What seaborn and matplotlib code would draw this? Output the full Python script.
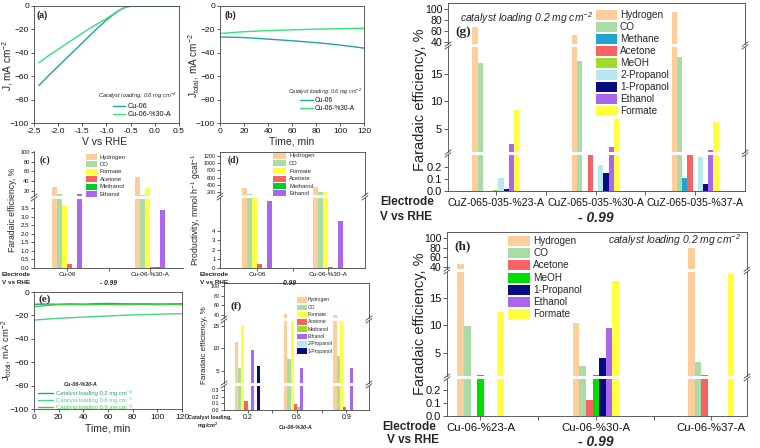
import numpy as np
import pandas as pd
import matplotlib
matplotlib.use("Agg")
import matplotlib.pyplot as plt
import seaborn as sns
from matplotlib.patches import Rectangle
from matplotlib.lines import Line2D

# ---------------- data ----------------
# (a) LSV
V_a = [-2.4, -2.2, -2.0, -1.8, -1.6, -1.4, -1.2, -1.0, -0.9, -0.8, -0.7, -0.6, -0.5, -0.4, -0.2, 0.0, 0.2, 0.5]
J_a_cu06 = [-68, -59.5, -51.5, -43.5, -35.5, -27.5, -19.5, -12, -8.7, -5.5, -2.8, -0.9, -0.1, 0, 0, 0, 0, 0]
J_a_cu06_30 = [-48.5, -42.5, -37, -31.5, -26, -20.5, -15.5, -10.8, -8, -5.2, -2.7, -1.0, -0.2, 0, 0, 0, 0, 0]
# (b) chronoamperometry
t_b = [0, 10, 20, 30, 40, 50, 60, 70, 80, 90, 100, 110, 120]
J_b_cu06 = [-26.5, -26.7, -27, -27.6, -28.3, -29, -29.7, -30.5, -31.3, -32.3, -33.4, -34.6, -36]
J_b_cu06_30 = [-23.5, -22.7, -22, -21.5, -21, -20.7, -20.4, -20.1, -19.8, -19.6, -19.4, -19.2, -19]
# (e) chronoamperometry, loadings
t_e = [0, 10, 20, 30, 40, 50, 60, 70, 80, 90, 100, 110, 120]
J_e_02 = [-10.5, -10.3, -10.5, -10.2, -10.4, -10.0, -9.8, -10.0, -10.2, -10.1, -10.3, -10.2, -10.0]
J_e_06 = [-24, -23.2, -22.5, -22, -21.5, -21, -20.5, -20, -19.6, -19.3, -19, -18.7, -18.5]
J_e_09 = [-12.5, -11.5, -10.8, -10.6, -10.8, -10.6, -10.5, -10.7, -10.6, -10.5, -10.8, -10.6, -10.5]

# (c) Faradaic efficiency
cd_electrodes = ["Cu-06", "Cu-06-%30-A"]
cd_products = ["Hydrogen", "CO", "Formate", "Acetone", "Methanol", "Ethanol"]
c_hydrogen = [28, 48]
c_co = [13, 12]
c_formate = [3.7, 26]
c_acetone = [0.25, 0.08]
c_methanol = [0.0, 0.04]
c_ethanol = [13, 3.4]
# (d) Productivity
d_hydrogen = [310, 350]
d_co = [150, 200]
d_formate = [120, 200]
d_acetone = [0.4, 0.1]
d_methanol = [0.0, 0.05]
d_ethanol = [7.3, 5.1]

# (f) FE vs loading
f_loadings = ["0.2", "0.6", "0.9"]
f_products = ["Hydrogen", "CO", "Formate", "Acetone", "Methanol", "Ethanol", "2-Propanol", "1-Propanol"]
f_hydrogen = [11.5, 42, 41]
f_co = [5.6, 7.6, 8.3]
f_formate = [15.3, 17, 17]
f_acetone = [0.14, 0.09, 0.05]
f_methanol = [0.0, 0.045, 0.0]
f_ethanol = [9.6, 5.6, 5.6]
f_2propanol = [0.0, 0.0, 0.0]
f_1propanol = [6.1, 0.0, 0.0]

# (g)
g_electrodes = ["CuZ-065-035-%23-A", "CuZ-065-035-%30-A", "CuZ-065-035-%37-A"]
g_products = ["Hydrogen", "CO", "Methane", "Acetone", "MeOH", "2-Propanol", "1-Propanol", "Ethanol", "Formate"]
g_hydrogen = [67, 53, 95]
g_co = [17.0, 17.4, 18.1]
g_methane = [0.0, 0.0, 0.11]
g_acetone = [0.0, 0.5, 0.9]
g_meoh = [0.01, 0.0, 0.0]
g_2propanol = [0.11, 0.22, 0.28]
g_1propanol = [0.015, 0.15, 0.06]
g_ethanol = [2.3, 1.7, 1.2]
g_formate = [8.5, 6.8, 6.3]

# (h)
h_electrodes = ["Cu-06-%23-A", "Cu-06-%30-A", "Cu-06-%37-A"]
h_products = ["Hydrogen", "CO", "Acetone", "MeOH", "1-Propanol", "Ethanol", "Formate"]
h_hydrogen = [47, 10.5, 79]
h_co = [9.8, 2.7, 3.3]
h_acetone = [0.0, 0.12, 0.9]
h_meoh = [0.9, 0.9, 0.0]
h_1propanol = [0.0, 4.0, 0.0]
h_ethanol = [0.0, 9.5, 0.0]
h_formate = [12.5, 18.0, 19.3]

# colours
COL = {
    "Hydrogen": "#FFCC9C", "CO": "#A9DCA6", "Formate": "#FFFF40", "Acetone": "#F86262",
    "Methanol": "#00CC22", "Ethanol": "#AA66EE", "Methane": "#1EA6D0", "MeOH": "#9BDD2A",
    "2-Propanol": "#B6E9EE", "1-Propanol": "#0A0A80",
}
pal_c = {k: COL[k] for k in cd_products}
pal_f = dict(COL); pal_f["Methanol"] = "#9BDD2A"
pal_h = dict(COL); pal_h["MeOH"] = "#00DD00"

# ---------------- figure ----------------
sns.set_theme(style="ticks")
plt.rcParams["font.family"] = ["Liberation Sans", "DejaVu Sans"]
plt.rcParams["mathtext.default"] = "regular"
plt.rcParams["axes.edgecolor"] = "#444444"
plt.rcParams["axes.linewidth"] = 0.6
plt.rcParams["xtick.color"] = "#444444"
plt.rcParams["ytick.color"] = "#444444"
plt.rcParams["xtick.labelcolor"] = "#111111"
plt.rcParams["ytick.labelcolor"] = "#111111"

W, H = 760, 448
fig = plt.figure(figsize=(7.6, 4.48), dpi=100)
fig.patch.set_facecolor("white")


def fx(x):
    return x / W


def fy(y):
    return 1 - y / H


def ax_px(x0, y0, x1, y1):
    return fig.add_axes([x0 / W, 1 - y1 / H, (x1 - x0) / W, (y1 - y0) / H])


def txt(x, y, s, ha="center", va="center", **kw):
    fig.text(fx(x), fy(y), s, ha=ha, va=va, **kw)


def brk(x, y):
    for dy in (-1.4, 1.4):
        fig.add_artist(Line2D([fx(x - 3), fx(x + 3)], [fy(y + dy + 2.2), fy(y + dy - 2.2)],
                              color="#444444", lw=0.6))


def lpatch(x, y, w, h, color, label, fs, tx):
    fig.add_artist(Rectangle((fx(x), fy(y + h / 2)), w / W, h / H, transform=fig.transFigure,
                             facecolor=color, edgecolor="none"))
    txt(tx, y, label, ha="left", fontsize=fs)


def lline(x0, x1, y, color, label, fs, tx, tcolor="#111111", lw=1.0):
    fig.add_artist(Line2D([fx(x0), fx(x1)], [fy(y), fy(y)], color=color, lw=lw))
    txt(tx, y, label, ha="left", fontsize=fs, color=tcolor)


def long_df(cats, prods, cols):
    rows = []
    for p, vals in zip(prods, cols):
        for c, v in zip(cats, vals):
            rows.append({"electrode": c, "product": p, "value": v})
    return pd.DataFrame(rows)


def broken_panel(df, order, hue_order, palette, width, xlim, x0, x1, segs, frame=True,
                 xtick_fs=6, tick_len=2.5, xpad=1.5):
    axes = []
    n = len(segs)
    for i, (ytop, ybot, ylim, yticks, ylabels, yfs) in enumerate(segs):
        ax = ax_px(x0, ytop, x1, ybot)
        sns.barplot(data=df, x="electrode", y="value", hue="product", order=order,
                    hue_order=hue_order, palette=palette, width=width, saturation=1,
                    errorbar=None, legend=False, ax=ax, linewidth=0, edgecolor="none")
        ax.set_xlim(*xlim)
        ax.set_ylim(*ylim)
        ax.set_yticks(yticks)
        ax.set_yticklabels(ylabels)
        ax.set_xlabel("")
        ax.set_ylabel("")
        ax.set_facecolor("none")
        is_top, is_bot = i == 0, i == n - 1
        ax.spines["top"].set_visible(frame and is_top)
        ax.spines["right"].set_visible(frame)
        ax.spines["bottom"].set_visible(is_bot)
        ax.tick_params(axis="y", labelsize=yfs, length=tick_len, width=0.6, pad=1.2)
        if is_bot:
            ax.set_xticks(range(len(order)))
            ax.set_xticklabels(order)
            ax.set_xticks([k + 0.5 for k in range(len(order) - 1)], minor=True)
            ax.tick_params(axis="x", which="both", labelsize=xtick_fs, length=tick_len,
                           width=0.6, pad=xpad)
        else:
            ax.tick_params(axis="x", which="both", bottom=False, labelbottom=False)
        axes.append(ax)
        if not is_bot:
            brk(x0, ybot + 1.5)
            if frame:
                brk(x1, ybot + 1.5)
    return axes


def style_line_ax(ax):
    ax.tick_params(labelsize=6, length=2, width=0.6, pad=1.5)
    for s in ax.spines.values():
        s.set_visible(True)
    ax.set_xlabel("")
    ax.set_ylabel("")


# ---------------- (a) ----------------
ax = ax_px(34, 6, 179, 123)
sns.lineplot(x=V_a, y=J_a_cu06, ax=ax, color="#1FA4A0", lw=1.0)
sns.lineplot(x=V_a, y=J_a_cu06_30, ax=ax, color="#35E27A", lw=1.0)
ax.set_xlim(-2.5, 0.5)
ax.set_ylim(-100, 0)
ax.set_xticks(np.arange(-2.5, 0.51, 0.5))
ax.set_xticklabels(["-2.5", "-2.0", "-1.5", "-1.0", "-0.5", "0.0", "0.5"])
ax.set_yticks(range(-100, 1, 20))
style_line_ax(ax)
txt(42, 16, "(a)", fontsize=6.5, fontweight="bold")
txt(104, 142, "V vs RHE", fontsize=7.5)
txt(8, 65, "J, mA cm$^{-2}$", fontsize=7.2, rotation=90)
txt(177, 96, "Catalyst loading: 0.6 mg cm$^{-2}$", ha="right", fontsize=4.2, style="italic")
lline(113, 125, 106, "#1FA4A0", "Cu-06", 5.2, 128)
lline(113, 125, 114, "#35E27A", "Cu-06-%30-A", 5.2, 128)

# ---------------- (b) ----------------
ax = ax_px(220, 6, 364, 123)
sns.lineplot(x=t_b, y=J_b_cu06, ax=ax, color="#1FA4A0", lw=1.0)
sns.lineplot(x=t_b, y=J_b_cu06_30, ax=ax, color="#35E27A", lw=1.0)
ax.set_xlim(0, 120)
ax.set_ylim(-100, 0)
ax.set_xticks(range(0, 121, 20))
ax.set_yticks(range(-100, 1, 20))
style_line_ax(ax)
txt(230, 16, "(b)", fontsize=6.5, fontweight="bold")
txt(292, 142, "Time, min", fontsize=7.5)
txt(194, 65, "J$_{total}$, mA cm$^{-2}$", fontsize=7.2, rotation=90)
txt(362, 91.5, "Catalyst loading: 0.6 mg cm$^{-2}$", ha="right", fontsize=4.0, style="italic")
lline(300, 313, 100, "#1FA4A0", "Cu-06", 4.8, 315)
lline(300, 313, 108, "#35E27A", "Cu-06-%30-A", 4.8, 315)

# ---------------- (c) ----------------
df_c = long_df(cd_electrodes, cd_products,
               [c_hydrogen, c_co, c_formate, c_acetone, c_methanol, c_ethanol])
segs_c = [
    (151, 196, (9.7, 102), [20, 40, 60, 80, 100], ["20", "40", "60", "80", "100"], 4.0),
    (199, 268, (0, 4.03), np.arange(0, 3.6, 0.5),
     ["0.0", "0.5", "1.0", "1.5", "2.0", "2.5", "3.0", "3.5"], 4.4),
]
broken_panel(df_c, cd_electrodes, cd_products, pal_c, 0.36, (-0.4, 1.4), 34, 183, segs_c,
             frame=False, xtick_fs=4.6, tick_len=2, xpad=1.2)
txt(45, 160, "(c)", fontsize=7, fontweight="bold", family="Liberation Serif")
txt(13, 210, "Faradaic efficiency, %", fontsize=6.2, rotation=90)
for k, p in enumerate(cd_products):
    lpatch(86, 157 + k * 7.4, 11, 6, pal_c[p], p, 4.3, 100)
txt(2, 275, "Electrode", ha="left", fontsize=4.6, fontweight="bold")
txt(2, 282, "V vs RHE", ha="left", fontsize=4.6, fontweight="bold")
txt(108, 283, "- 0.99", fontsize=4.8, fontweight="bold", style="italic")

# ---------------- (d) ----------------
df_d = long_df(cd_electrodes, cd_products,
               [d_hydrogen, d_co, d_formate, d_acetone, d_methanol, d_ethanol])
segs_d = [
    (152, 195, (117, 1311), [200, 400, 600, 800, 1000, 1200],
     ["200", "400", "600", "800", "1000", "1200"], 3.8),
    (198, 268, (0, 7.6), [0, 1, 2, 3, 4], ["0", "1", "2", "3", "4"], 4.4),
]
broken_panel(df_d, cd_electrodes, cd_products, pal_c, 0.42, (-0.52, 1.52), 220, 365, segs_d,
             frame=True, xtick_fs=4.6, tick_len=2, xpad=1.2)
txt(233, 160, "(d)", fontsize=7, fontweight="bold", family="Liberation Serif")
txt(196, 210, "Productivity, mmol h$^{-1}$ gcat$^{-1}$", fontsize=6.2, rotation=90)
for k, p in enumerate(cd_products):
    lpatch(273, 156 + k * 7.5, 13, 6, pal_c[p], p, 4.2, 289)
txt(200, 275, "Electrode", ha="left", fontsize=4.6, fontweight="bold")
txt(200, 282, "V vs RHE", ha="left", fontsize=4.6, fontweight="bold")
txt(287, 283, "- 0.99", fontsize=4.8, fontweight="bold", style="italic")

# ---------------- (e) ----------------
ax = ax_px(34, 292, 182, 409)
e_cols = ["#2F9A7C", "#46D58A", "#33D43A"]
sns.lineplot(x=t_e, y=J_e_02, ax=ax, color=e_cols[0], lw=1.0)
sns.lineplot(x=t_e, y=J_e_06, ax=ax, color=e_cols[1], lw=1.0)
sns.lineplot(x=t_e, y=J_e_09, ax=ax, color=e_cols[2], lw=1.0)
ax.set_xlim(0, 120)
ax.set_ylim(-100, 0)
ax.set_xticks(range(0, 121, 20))
ax.set_yticks(range(-100, 1, 20))
style_line_ax(ax)
txt(45, 299, "(e)", fontsize=8, fontweight="bold", family="Liberation Serif")
txt(108, 428, "Time, min", fontsize=7.5)
txt(7, 350, "J$_{total}$, mA cm$^{-2}$", fontsize=6.8, rotation=90)
txt(81, 384.5, "Cu-06-%30-A", fontsize=4.0, fontweight="bold", style="italic")
lline(38, 53, 393, e_cols[0], "Catalyst loading 0.2 mg cm\u207b\u00b2", 4.2, 56, tcolor=e_cols[0])
lline(38, 53, 400, e_cols[1], "Catalyst loading 0.6 mg cm\u207b\u00b2", 4.2, 56, tcolor=e_cols[1])
lline(38, 53, 407, e_cols[2], "Catalyst loading 0.9 mg cm\u207b\u00b2", 4.2, 56, tcolor=e_cols[2])

# ---------------- (f) ----------------
df_f = long_df(f_loadings, f_products,
               [f_hydrogen, f_co, f_formate, f_acetone, f_methanol, f_ethanol, f_2propanol, f_1propanol])
segs_f = [
    (283, 318, (34, 106), [40, 60, 80, 100], ["40", "60", "80", "100"], 3.8),
    (321, 383, (2.2, 16.1), [5, 10, 15], ["5", "10", "15"], 4.6),
    (386, 410, (0, 0.36), [0, 0.1, 0.2, 0.3], ["0.0", "0.1", "0.2", "0.3"], 3.8),
]
broken_panel(df_f, f_loadings, f_products, pal_f, 0.52, (-0.48, 2.46), 224, 369, segs_f,
             frame=True, xtick_fs=5, tick_len=2, xpad=1.2)
txt(236, 306, "(f)", fontsize=8, fontweight="bold", family="Liberation Serif")
txt(204, 345, "Faradaic efficiency, %", fontsize=5.8, rotation=90)
for k, p in enumerate(f_products):
    lpatch(297, 300 + k * 7.3, 10, 5.5, pal_f[p], p, 3.6, 308)
txt(210, 417, "Catalyst loading,", fontsize=4, fontweight="bold")
txt(208, 426, "mg/cm$^{2}$", fontsize=4, fontweight="bold")
txt(296, 427, "Cu-06-%30-A", fontsize=4, fontweight="bold", style="italic")

# ---------------- (g) ----------------
df_g = long_df(g_electrodes, g_products,
               [g_hydrogen, g_co, g_methane, g_acetone, g_meoh, g_2propanol, g_1propanol, g_ethanol, g_formate])
segs_g = [
    (3, 44, (36.4, 111), [40, 60, 80, 100], ["40", "60", "80", "100"], 7.6),
    (47, 152, (0.82, 19.9), [5, 10, 15], ["5", "10", "15"], 8),
    (155, 191, (0, 0.3), [0, 0.1, 0.2], ["0.0", "0.1", "0.2"], 8),
]
broken_panel(df_g, g_electrodes, g_products, COL, 0.47, (-0.48, 2.5), 448, 745, segs_g,
             frame=True, xtick_fs=7.6, tick_len=3, xpad=2)
txt(463, 32, "(g)", fontsize=9.5, fontweight="bold", family="Liberation Serif")
txt(460, 18, "catalyst loading 0.2 mg cm$^{-2}$", ha="left", fontsize=7.5, style="italic")
txt(420, 100, "Faradaic efficiency, %", fontsize=10.5, rotation=90)
for k, p in enumerate(g_products):
    lpatch(596, 15 + k * 12, 21, 10, COL[p], p, 7.2, 620)
txt(380, 202, "Electrode", ha="left", fontsize=8.5, fontweight="bold")
txt(380, 217, "V vs RHE", ha="left", fontsize=8.5, fontweight="bold")
txt(596, 218, "- 0.99", fontsize=10, fontweight="bold", style="italic")

# ---------------- (h) ----------------
df_h = long_df(h_electrodes, h_products,
               [h_hydrogen, h_co, h_acetone, h_meoh, h_1propanol, h_ethanol, h_formate])
segs_h = [
    (232, 269, (36, 112), [40, 60, 80, 100], ["40", "60", "80", "100"], 7.6),
    (272, 376, (0.8, 19.7), [5, 10, 15], ["5", "10", "15"], 8),
    (379, 416, (0, 0.285), [0, 0.1, 0.2], ["0.0", "0.1", "0.2"], 8),
]
broken_panel(df_h, h_electrodes, h_products, pal_h, 0.4, (-0.29, 2.31), 447, 747, segs_h,
             frame=True, xtick_fs=8.2, tick_len=3, xpad=2)
txt(463, 246, "(h)", fontsize=9.5, fontweight="bold", family="Liberation Serif")
txt(741, 240, "catalyst loading 0.2 mg cm$^{-2}$", ha="right", fontsize=7.5, style="italic")
txt(420, 324, "Faradaic efficiency, %", fontsize=10.5, rotation=90)
for k, p in enumerate(h_products):
    lpatch(508, 241 + k * 12.2, 22, 10, pal_h[p], p, 7.2, 533)
txt(382, 427, "Electrode", ha="left", fontsize=8.5, fontweight="bold")
txt(387, 440, "V vs RHE", ha="left", fontsize=8.5, fontweight="bold")
txt(596, 442, "- 0.99", fontsize=10, fontweight="bold", style="italic")

fig.savefig("out.png", dpi=100, facecolor="white")
